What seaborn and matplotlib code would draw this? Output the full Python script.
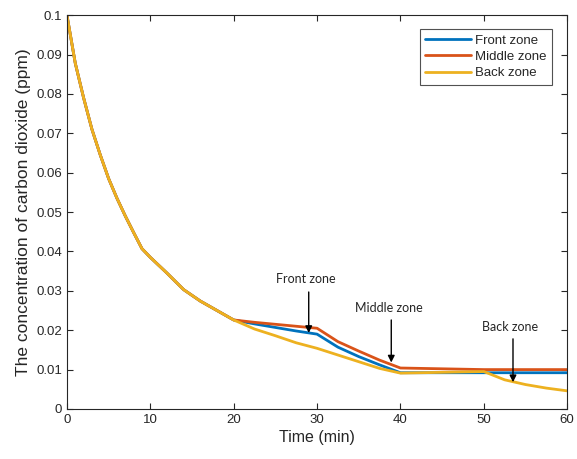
import numpy as np
import pandas as pd
import matplotlib
matplotlib.use("Agg")
import matplotlib.pyplot as plt
import seaborn as sns

# Time points (min)
time = [0, 1, 2, 3, 4, 5, 6, 7, 8, 9, 10, 12, 14, 16, 18, 20,
        22.5, 25, 27.5, 30, 32.5, 35, 37.5, 40, 45, 50, 52.5, 55, 57.5, 60]

common = [0.1, 0.0878, 0.079, 0.071, 0.0645, 0.0585, 0.0535, 0.049, 0.0448, 0.0407,
          0.0385, 0.0345, 0.0303, 0.0274, 0.025, 0.0226]

front = common + [0.0216, 0.0207, 0.0198, 0.0190, 0.0157, 0.0133, 0.0112, 0.0092,
                  0.0092, 0.0092, 0.0092, 0.0092, 0.0092, 0.0092]
middle = common + [0.0220, 0.0215, 0.0210, 0.0205, 0.0171, 0.0147, 0.0124, 0.0104,
                   0.0102, 0.0100, 0.0100, 0.0100, 0.0100, 0.0100]
back = common + [0.0203, 0.0186, 0.0168, 0.0154, 0.0137, 0.0120, 0.0103, 0.0091,
                 0.0093, 0.0095, 0.0074, 0.0062, 0.0053, 0.0046]

series_names = ["Front zone", "Middle zone", "Back zone"]
colors = ["#0072BD", "#D95319", "#EDB120"]

# Annotations: (label, arrow x, arrow tail y, arrow tip y, text y)
ann_labels = ["Front zone", "Middle zone", "Back zone"]
ann_x = [29.0, 38.9, 53.5]
ann_tail = [0.0297, 0.0226, 0.0178]
ann_tip = [0.0193, 0.0118, 0.0068]
ann_text_y = [0.0331, 0.0257, 0.0207]

df = pd.concat([
    pd.DataFrame({"Time": time, "CO2": vals, "Zone": name})
    for name, vals in zip(series_names, [front, middle, back])
])

sns.set_style("ticks")
plt.rcParams["font.family"] = ["Liberation Sans", "DejaVu Sans"]

fig = plt.figure(figsize=(5.77, 4.59), dpi=100)
ax = fig.add_axes([0.116, 0.109, 0.867, 0.858])

sns.lineplot(data=df, x="Time", y="CO2", hue="Zone", hue_order=series_names,
             palette=colors, linewidth=2.0, ax=ax, sort=False)

ax.set_xlim(0, 60)
ax.set_ylim(0, 0.1)
ax.set_xticks(np.arange(0, 61, 10))
ax.set_yticks(np.arange(0, 0.1001, 0.01))
ax.set_yticklabels(["0"] + [f"{v:.2f}".rstrip("0") if i < 10 else "0.1"
                            for i, v in enumerate(np.arange(0.01, 0.1001, 0.01), start=1)])
ax.tick_params(direction="in", top=True, right=True, labelsize=9.5, length=4,
               colors="#262626", labelcolor="#262626")
for s in ax.spines.values():
    s.set_linewidth(0.8)
    s.set_color("#262626")
ax.set_xlabel("Time (min)", fontsize=11.5, color="#262626", labelpad=3)
ax.set_ylabel("The concentration of carbon dioxide (ppm)", fontsize=12.5,
              color="#262626", labelpad=4)

for lab, x, tail, tip, ty in zip(ann_labels, ann_x, ann_tail, ann_tip, ann_text_y):
    ax.annotate("", xy=(x, tip), xytext=(x, tail),
                arrowprops=dict(arrowstyle="-|>", color="black", lw=1.0,
                                mutation_scale=10, shrinkA=0, shrinkB=0))
    ax.text(x - 0.3, ty, lab, ha="center", va="center", fontsize=9,
            color="#262626", family=["Lato", "DejaVu Sans"])

leg = ax.legend(loc="upper right", bbox_to_anchor=(0.97, 0.964), borderaxespad=0,
                fontsize=9.5, frameon=True, fancybox=False, edgecolor="#262626",
                handlelength=3.5, handletextpad=0.3, borderpad=0.4,
                labelspacing=0.3, title=None)
leg.get_frame().set_linewidth(0.8)

fig.savefig("out.png", dpi=100)
